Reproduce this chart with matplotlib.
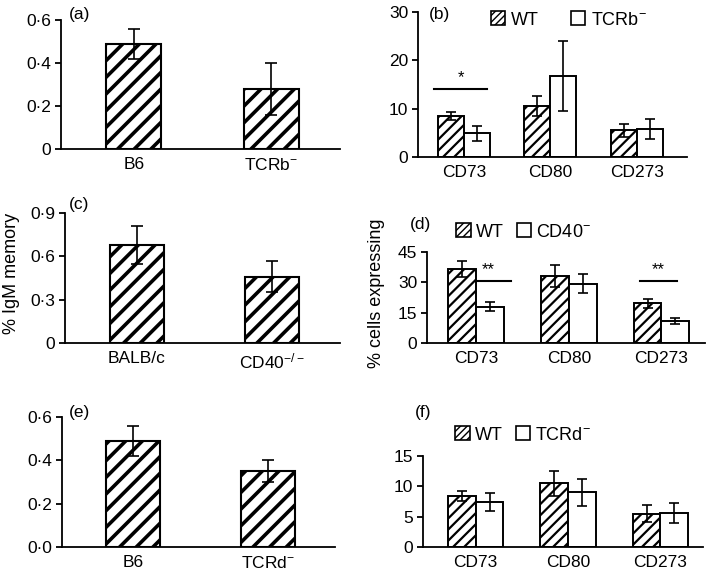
import matplotlib
matplotlib.use("Agg")
from matplotlib import pyplot as plt
from matplotlib.patches import Patch
import numpy as np

plt.rcParams['font.family'] = ['Liberation Sans', 'DejaVu Sans']
plt.rcParams['mathtext.fontset'] = 'custom'
plt.rcParams['mathtext.rm'] = 'Liberation Sans'
plt.rcParams['mathtext.it'] = 'Liberation Sans'

# ------------------------------------------------------------------
# data
# ------------------------------------------------------------------
a_labels = ['B6', 'TCRb$^{-}$']
a_vals = [0.49, 0.28]
a_err = [0.07, 0.12]

c_labels = ['BALB/c', 'CD40$^{-/-}$']
c_vals = [0.68, 0.46]
c_err = [0.13, 0.11]

e_labels = ['B6', 'TCRd$^{-}$']
e_vals = [0.49, 0.35]
e_err = [0.07, 0.05]

markers = ['CD73', 'CD80', 'CD273']

b_wt = [8.5, 10.5, 5.5]
b_wt_err = [0.8, 2.1, 1.4]
b_ko = [4.9, 16.8, 5.8]
b_ko_err = [1.6, 7.2, 2.0]

d_wt = [36.5, 33.3, 19.6]
d_wt_err = [4.1, 5.5, 2.1]
d_ko = [18.0, 29.4, 11.0]
d_ko_err = [2.1, 4.9, 1.5]

f_wt = [8.4, 10.5, 5.5]
f_wt_err = [0.8, 2.1, 1.4]
f_ko = [7.4, 9.0, 5.6]
f_ko_err = [1.5, 2.2, 1.6]

W, H = 709, 575
FS = 12.5


def box(l, t, r, b):
    return [l / W, 1 - b / H, (r - l) / W, (b - t) / H]


def style(ax):
    ax.spines['top'].set_visible(False)
    ax.spines['right'].set_visible(False)
    ax.spines['left'].set_linewidth(1.3)
    ax.spines['bottom'].set_linewidth(1.3)
    ax.tick_params(axis='x', length=0, labelsize=FS, pad=6)
    ax.tick_params(axis='y', length=4, width=1.3, labelsize=FS, pad=3)


def single(ax, labels, vals, err, ymax, yticks, yfmt):
    with plt.rc_context({'hatch.linewidth': 2.6}):
        ax.bar([0, 1], vals, width=0.4, color='white', edgecolor='black',
               linewidth=1.5, hatch='//', zorder=2)
    ax.errorbar([0, 1], vals, yerr=err, fmt='none', ecolor='black',
                elinewidth=1.2, capsize=4, capthick=1.2, zorder=3)
    ax.set_xlim(-0.53, 1.5)
    ax.set_ylim(0, ymax)
    ax.set_yticks(yticks)
    ax.set_yticklabels([yfmt(v) for v in yticks])
    ax.set_xticks([0, 1])
    ax.set_xticklabels(labels)
    style(ax)


def grouped(ax, wt, wt_err, ko, ko_err, ko_name, ymax, yticks, xlo, xhi,
            leg_xy, colsp):
    x = np.arange(len(markers))
    w = 0.3
    with plt.rc_context({'hatch.linewidth': 1.6}):
        ax.bar(x - w / 2, wt, width=w, color='white', edgecolor='black',
               linewidth=1.4, hatch='///', zorder=2)
    ax.bar(x + w / 2, ko, width=w, color='white', edgecolor='black',
           linewidth=1.4, zorder=2)
    ax.errorbar(x - w / 2, wt, yerr=wt_err, fmt='none', ecolor='black',
                elinewidth=1.2, capsize=3.5, capthick=1.2, zorder=3)
    ax.errorbar(x + w / 2, ko, yerr=ko_err, fmt='none', ecolor='black',
                elinewidth=1.2, capsize=3.5, capthick=1.2, zorder=3)
    ax.set_xlim(xlo, xhi)
    ax.set_ylim(0, ymax)
    ax.set_yticks(yticks)
    ax.set_xticks(x)
    ax.set_xticklabels(markers)
    style(ax)
    with plt.rc_context({'hatch.linewidth': 1.3}):
        h = [Patch(facecolor='white', edgecolor='black', hatch='/////',
                   linewidth=1.2, label='WT'),
             Patch(facecolor='white', edgecolor='black', linewidth=1.2,
                   label=ko_name)]
    ax.legend(handles=h, loc='center left', bbox_to_anchor=leg_xy, ncol=2,
              frameon=False, fontsize=13, handlelength=0.8,
              handleheight=0.8, handletextpad=0.3, columnspacing=colsp,
              borderaxespad=0, borderpad=0)


def dot(v):
    s = '%.1f' % v
    return s.replace('.', '\u00b7')


def dot0(v):
    return '0' if v == 0 else dot(v)


fig = plt.figure(figsize=(W / 100, H / 100), dpi=100)

# (a)
ax = fig.add_axes(box(61, 20, 340, 149))
single(ax, a_labels, a_vals, a_err, 0.6, [0, 0.2, 0.4, 0.6], dot0)

# (c)
ax = fig.add_axes(box(65, 213, 340, 343))
single(ax, c_labels, c_vals, c_err, 0.9, [0, 0.3, 0.6, 0.9], dot0)

# (e)
ax = fig.add_axes(box(62, 417, 335, 547))
single(ax, e_labels, e_vals, e_err, 0.6, [0, 0.2, 0.4, 0.6], dot)

# (b)
ax = fig.add_axes(box(418, 12, 687, 157))
grouped(ax, b_wt, b_wt_err, b_ko, b_ko_err, 'TCRb$^{-}$', 30,
        [0, 10, 20, 30], -0.53, 2.58, (0.27, 0.945), 1.8)
ax.plot([-0.34, 0.27], [14.1, 14.1], color='black', lw=1.5)
ax.text(-0.035, 14.9, '*', ha='center', va='bottom', fontsize=12)

# (d)
ax = fig.add_axes(box(427, 252, 705, 343))
grouped(ax, d_wt, d_wt_err, d_ko, d_ko_err, 'CD40$^{-}$', 45,
        [0, 15, 30, 45], -0.53, 2.47, (0.105, 1.22), 0.7)
ax.plot([0.0, 0.38], [30.8, 30.8], color='black', lw=1.5)
ax.text(0.13, 32.5, '**', ha='center', va='bottom', fontsize=12)
ax.plot([1.77, 2.17], [30.8, 30.8], color='black', lw=1.5)
ax.text(1.97, 32.5, '**', ha='center', va='bottom', fontsize=12)
ax.set_ylabel('% cells expressing', fontsize=13)
ax.yaxis.set_label_coords(-0.15, 0.55)

# (f)
ax = fig.add_axes(box(423, 456, 703, 547))
grouped(ax, f_wt, f_wt_err, f_ko, f_ko_err, 'TCRd$^{-}$', 15,
        [0, 5, 10, 15], -0.57, 2.46, (0.115, 1.23), 0.7)

fig.text(12 / W, 1 - 273 / H, '% IgM memory', rotation=90, fontsize=13,
         ha='center', va='center')

for lab, px, py in [('(a)', 69, 15), ('(b)', 429, 15), ('(c)', 69, 205),
                    ('(d)', 410, 225), ('(e)', 69, 412), ('(f)', 415, 413)]:
    fig.text(px / W, 1 - py / H, lab, fontsize=12.5, ha='left', va='center')

fig.savefig('out.png', dpi=100)
plt.close()
